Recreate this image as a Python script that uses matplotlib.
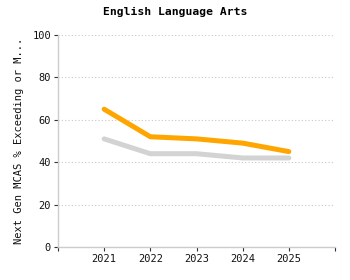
import matplotlib
matplotlib.use("Agg")
import matplotlib.pyplot as plt

years = [2021, 2022, 2023, 2024, 2025]
school = [65, 52, 51, 49, 45]
state = [51, 44, 44, 42, 42]
yticks = [0, 20, 40, 60, 80, 100]

plt.rcParams['font.family'] = ['DejaVu Sans Mono']
fig = plt.figure(figsize=(3.5, 2.8), dpi=100)
ax = fig.add_axes([58/350, 1-247/280, (335-58)/350, (247-35)/280])

ax.plot(years, state, color='#d3d3d3', lw=3.6, solid_capstyle='round', zorder=3)
ax.plot(years, school, color='#ffa500', lw=3.6, solid_capstyle='round', zorder=4)

ax.set_xlim(2020, 2026)
ax.set_ylim(0, 100)
ax.set_yticks(yticks)
ax.set_xticks([2020] + years + [2026])
ax.set_xticklabels([''] + [str(y) for y in years] + [''], fontsize=7.5)
ax.set_yticklabels([str(v) for v in yticks], fontsize=7.5)
ax.yaxis.grid(True, linestyle=(0, (1, 2)), color='#c8c8c8', lw=0.8)
ax.set_axisbelow(True)
for s in ['top', 'right']:
    ax.spines[s].set_visible(False)
for s in ['left', 'bottom']:
    ax.spines[s].set_color('#cccccc')
    ax.spines[s].set_linewidth(1)
ax.tick_params(axis='both', length=3, width=0.8, color='#333333', pad=2, labelcolor='#111111')
ax.set_ylabel('Next Gen MCAS % Exceeding or M...', fontsize=7.5, labelpad=6, color='#111111')
fig.text(0.5, 1-12/280, 'English Language Arts', ha='center', va='center', fontsize=8.2, fontweight='bold')
fig.savefig('out.png', dpi=100)
